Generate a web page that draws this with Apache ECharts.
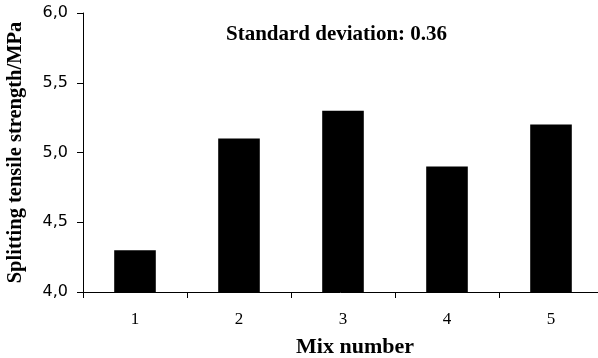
<!DOCTYPE html>
<html>
<head>
<meta charset="utf-8">
<script src="https://cdn.jsdelivr.net/npm/echarts@6/dist/echarts.min.js"></script>
<style>
  html, body { margin: 0; padding: 0; background: #fff; }
  #chart { width: 598px; height: 358px; }
</style>
</head>
<body>
<div id="chart"></div>
<script>
// Splitting tensile strength per mix
const mixNumbers = ['1', '2', '3', '4', '5'];
const tensileStrength = [4.3, 5.1, 5.3, 4.9, 5.2];
const yTicks = [4.0, 4.5, 5.0, 5.5, 6.0];
const annotationText = 'Standard deviation: 0.36';

const serif = '"Liberation Serif", "DejaVu Serif", serif';
const sans = '"DejaVu Sans", sans-serif';
const chart = echarts.init(document.getElementById('chart'));

chart.setOption({
  animation: false,
  grid: {
    left: 83, right: -5, top: 13, bottom: 66,
    containLabel: false,
    outerBoundsMode: 'none'
  },
  graphic: [{
    type: 'text',
    left: 226,
    top: 24,
    style: {
      text: annotationText,
      font: 'bold 21px ' + serif,
      fill: '#000'
    }
  }],
  xAxis: {
    type: 'category',
    data: mixNumbers,
    name: 'Mix number',
    nameLocation: 'middle',
    nameGap: 44,
    nameTextStyle: {
      fontFamily: serif, fontWeight: 'bold', fontSize: 22, color: '#000',
      padding: [0, 0, 0, 24]
    },
    axisLine: { lineStyle: { color: '#000', width: 1 } },
    axisTick: { show: true, alignWithLabel: false, length: 6, lineStyle: { color: '#000' } },
    axisLabel: { fontFamily: serif, fontSize: 17, color: '#000', margin: 19 }
  },
  yAxis: {
    type: 'value',
    min: yTicks[0],
    max: yTicks[yTicks.length - 1],
    interval: 0.5,
    name: 'Splitting tensile strength/MPa',
    nameLocation: 'middle',
    nameGap: 57,
    nameTextStyle: { fontFamily: serif, fontWeight: 'bold', fontSize: 20.5, color: '#000' },
    axisLine: { show: true, lineStyle: { color: '#000', width: 1 } },
    axisTick: { show: true, length: 6, lineStyle: { color: '#000' } },
    splitLine: { show: false },
    axisLabel: {
      fontFamily: sans,
      fontSize: 16,
      color: '#000',
      margin: 15,
      formatter: v => v.toFixed(1).replace('.', ',')
    }
  },
  series: [{
    type: 'bar',
    data: tensileStrength,
    barWidth: '40%',
    itemStyle: { color: '#000' }
  }]
});
</script>
</body>
</html>
